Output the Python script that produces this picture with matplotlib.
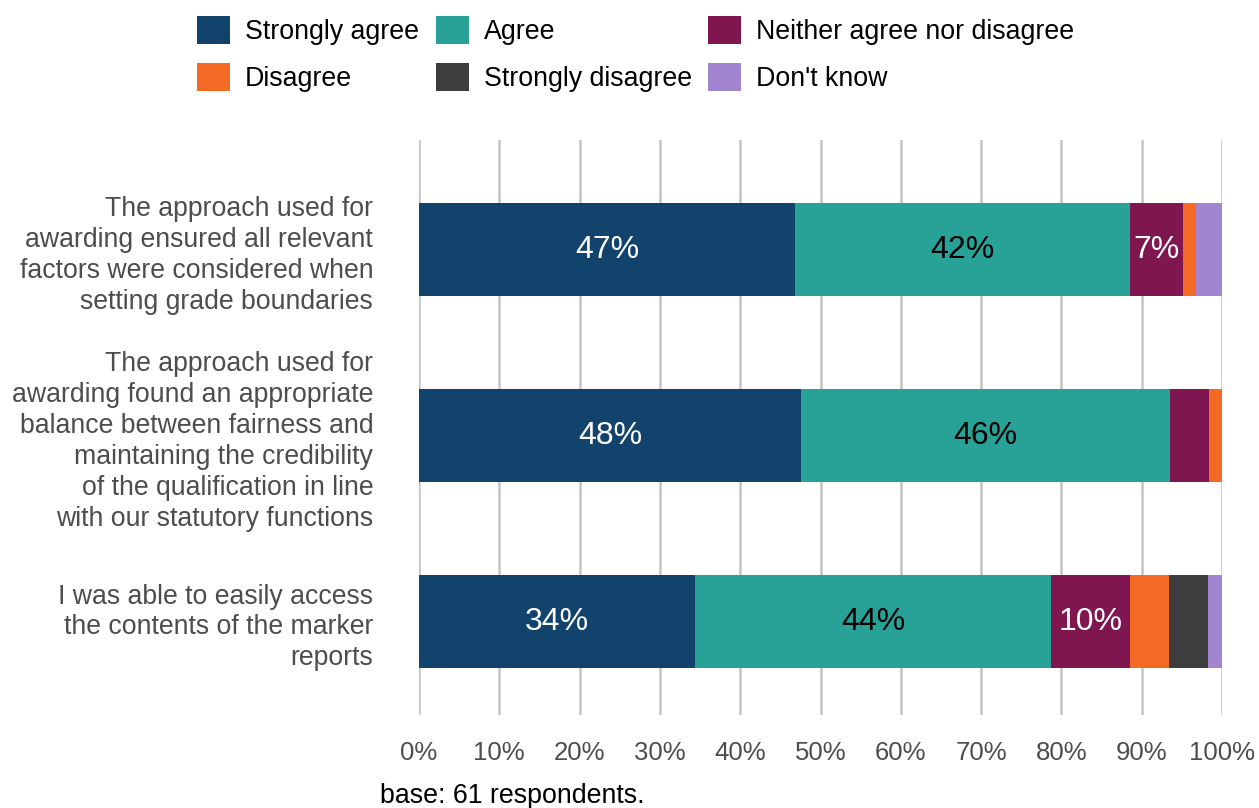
import matplotlib
matplotlib.use("Agg")
import matplotlib.pyplot as plt
from matplotlib.patches import Patch
import numpy as np

plt.rcParams['font.family'] = ['Liberation Sans', 'DejaVu Sans']

statements = [
    "The approach used for\nawarding ensured all relevant\nfactors were considered when\nsetting grade boundaries",
    "The approach used for\nawarding found an appropriate\nbalance between fairness and\nmaintaining the credibility\nof the qualification in line\nwith our statutory functions",
    "I was able to easily access\nthe contents of the marker\nreports",
]
responses = ["Strongly agree", "Agree", "Neither agree nor disagree",
             "Disagree", "Strongly disagree", "Don't know"]
colors = ["#12436D", "#28A197", "#801650", "#F46A25", "#3D3D3D", "#A285D1"]
label_colors = ["white", "black", "white", "white", "white", "black"]

# Share of respondents (%) per statement, in response order
strongly_agree = [46.8, 47.6, 34.4]
agree = [41.8, 45.9, 44.3]
neither = [6.6, 4.9, 9.8]
disagree = [1.6, 1.6, 4.9]
strongly_disagree = [0.0, 0.0, 4.9]
dont_know = [3.2, 0.0, 1.7]

series = [strongly_agree, agree, neither, disagree, strongly_disagree, dont_know]

fig = plt.figure(figsize=(12.59, 8.08), dpi=100)
ax = fig.add_axes([419 / 1259, 1 - 715 / 808, 803 / 1259, 575 / 808])

y = np.arange(len(statements))
left = np.zeros(len(statements))
for vals, col, tcol in zip(series, colors, label_colors):
    vals = np.array(vals)
    ax.barh(y, vals, left=left, height=0.5, color=col, zorder=3)
    for yi, (l, v) in enumerate(zip(left, vals)):
        if v >= 6:
            ax.text(l + v / 2, yi, f"{v:.0f}%", ha="center", va="center",
                    color=tcol, fontsize=23, zorder=4)
    left += vals

ax.set_xlim(0, 100)
ax.set_ylim(2.5, -0.59)
ax.set_xticks(np.arange(0, 101, 10))
ax.set_xticklabels([f"{t}%" for t in range(0, 101, 10)], fontsize=18.5, color="#4d4d4d")
ax.set_yticks(y)
ax.set_yticklabels(statements, fontsize=19.2, color="#4d4d4d", linespacing=1.245)
ax.tick_params(axis="y", length=0, pad=33)
ax.tick_params(axis="x", length=0, pad=19)
ax.grid(axis="x", color="#c4c4c4", linewidth=1.8, zorder=0)
for s in ax.spines.values():
    s.set_visible(False)

handles = [Patch(facecolor=c) for c in colors]
order = [0, 3, 1, 4, 2, 5]
fig.legend([handles[i] for i in order], [responses[i] for i in order],
           ncol=3, loc="upper left", bbox_to_anchor=(181 / 1259, 1.0),
           frameon=False, fontsize=19.3, handlelength=1.23, handleheight=1.23,
           handletextpad=0.56, columnspacing=0.62, labelspacing=0.66,
           borderaxespad=0.2)

fig.text(380 / 1259, 1 - 796 / 808, "base: 61 respondents.", fontsize=19.3,
         color="black", va="center", ha="left")

fig.savefig("out.png", dpi=100)
